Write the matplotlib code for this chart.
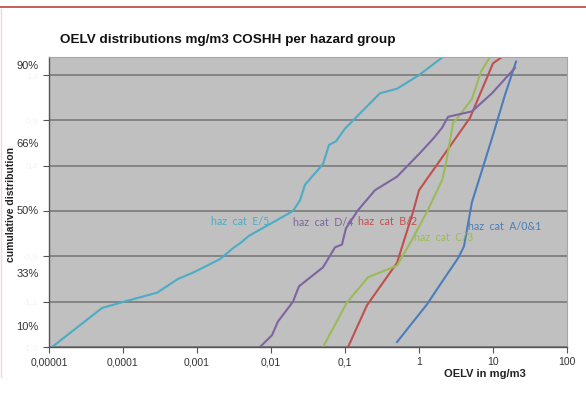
import numpy as np
import matplotlib.pyplot as plt
from matplotlib.lines import Line2D
from matplotlib.ticker import NullLocator

plt.rcParams['font.family'] = ['Liberation Sans', 'DejaVu Sans']

# OELV (mg/m3) against normal score, one curve per hazard group
a_x = [0.505, 1.28, 2.05, 3.37, 4.05, 5.2, 7.1, 10, 14.5, 20.5]
a_y = [-1.545, -1.13, -0.88, -0.62, -0.49, 0.00, 0.35, 0.74, 1.18, 1.55]

b_x = [0.11, 0.198, 0.505, 0.83, 1.0, 1.55, 4.9, 10, 13.2]
b_y = [-1.6, -1.14, -0.67, -0.11, 0.13, 0.35, 0.93, 1.53, 1.60]

c_x = [0.0505, 0.106, 0.205, 0.446, 0.505, 0.80, 1.28, 2.05, 2.32, 2.88, 3.81, 5.2, 6.9, 9.1]
c_y = [-1.6, -1.11, -0.83, -0.72, -0.70, -0.42, -0.11, 0.24, 0.43, 0.87, 0.99, 1.14, 1.44, 1.60]

d_x = [0.0071, 0.0103, 0.0124, 0.0198, 0.0239, 0.0505, 0.0733, 0.091, 0.103, 0.150,
       0.254, 0.505, 1.03, 1.60, 2.05, 2.47, 5.2, 9.7, 19.8]
d_y = [-1.6, -1.47, -1.32, -1.10, -0.93, -0.72, -0.50, -0.47, -0.29, -0.09,
       0.13, 0.28, 0.54, 0.71, 0.82, 0.94, 1.00, 1.20, 1.48]

e_x = [1.1e-5, 5.2e-5, 1.03e-4, 2.9e-4, 5.5e-4, 8.8e-4, 2.05e-3, 3.06e-3, 3.9e-3, 5.0e-3,
       0.0198, 0.0247, 0.0288, 0.0505, 0.0608, 0.0755, 0.1, 0.297, 0.505, 1.0, 2.1]
e_y = [-1.6, -1.17, -1.10, -1.00, -0.85, -0.78, -0.63, -0.51, -0.45, -0.375,
       -0.10, 0.02, 0.19, 0.42, 0.63, 0.67, 0.81, 1.20, 1.25, 1.40, 1.60]

series = [
    (a_x, a_y, '#4a7ebb', 'haz  cat  A/0&1', 4.6, -0.266),
    (b_x, b_y, '#c0504d', 'haz  cat  B/2', 0.15, -0.22),
    (c_x, c_y, '#9bbb59', 'haz  cat  C/3', 0.855, -0.39),
    (d_x, d_y, '#8064a2', 'haz  cat  D/4', 0.0198, -0.23),
    (e_x, e_y, '#4bacc6', 'haz  cat  E/5', 1.55e-3, -0.21),
]

x_ticks = [1e-5, 1e-4, 1e-3, 1e-2, 1e-1, 1, 10, 100]
x_labels = ['0,00001', '0,0001', '0,001', '0,01', '0,1', '1', '10', '100']
y_ticks = [-1.6, -1.1, -0.6, -0.1, 0.4, 0.9, 1.4]
y_labels = ['-1,6', '-1,1', '-0,6', '', '0,4', '0,9', '1,4']

pct_labels = ['90%', '66%', '50%', '33%', '10%']
pct_pos = [1.50, 0.64, -0.10, -0.79, -1.38]

fig = plt.figure(figsize=(5.86, 3.97), dpi=100)
ax = fig.add_axes([49/586, 1-347/397, 518/586, 290/397])
ax.set_facecolor('#c0c0c0')
ax.set_xscale('log')
ax.set_xlim(1e-5, 100)
ax.set_ylim(-1.6, 1.6)

for x, y, kolor, nazwa, lx, ly in series:
    ax.plot(x, y, color=kolor, lw=1.5, solid_joinstyle='round')
    ax.text(lx, ly, nazwa, color=kolor, fontsize=7.7, va='center',
            family=['Lato', 'DejaVu Sans'])

ax.set_xticks(x_ticks)
ax.set_xticklabels(x_labels)
ax.xaxis.set_minor_locator(NullLocator())
ax.set_yticks(y_ticks)
ax.set_yticklabels(y_labels)
ax.grid(axis='y', color='#7a7a7a', lw=1.2)
ax.set_axisbelow(True)

ax.tick_params(direction='out', length=4, color='#555555', labelsize=7.5, labelcolor='#333333')
ax.tick_params(axis='y', labelcolor='#f3f3f3', labelsize=6.5)
for s in ['left', 'bottom']:
    ax.spines[s].set_color('#555555')
    ax.spines[s].set_linewidth(1)
for s in ['top', 'right']:
    ax.spines[s].set_color('#a6a6a6')
    ax.spines[s].set_linewidth(0.8)

for lab, pos in zip(pct_labels, pct_pos):
    ax.annotate(lab, xy=(0, pos), xycoords=('axes fraction', 'data'),
                xytext=(-7.5, 0), textcoords='offset points',
                ha='right', va='center', fontsize=8, color='#333333')

ax.set_xlabel('OELV in mg/m3', fontsize=8, fontweight='bold', color='#222222')
ax.xaxis.set_label_coords(436/518, -22/290)
ax.set_ylabel('cumulative distribution', fontsize=7.5, fontweight='bold', color='#222222')
ax.yaxis.set_label_coords(-33/518, 142/290)

fig.text(60/586, 1-40/397, 'OELV distributions mg/m3 COSHH per hazard group',
         fontsize=9.7, fontweight='bold', va='center', ha='left', color='#111111')

# slide frame
fig.add_artist(Line2D([0, 1], [1-7/397, 1-7/397], color='#c0504d', lw=1.3))
fig.add_artist(Line2D([1/586, 1/586], [0.05, 1-9/397], color='#f2d8d8', lw=1))

plt.savefig('out.png', dpi=100)
